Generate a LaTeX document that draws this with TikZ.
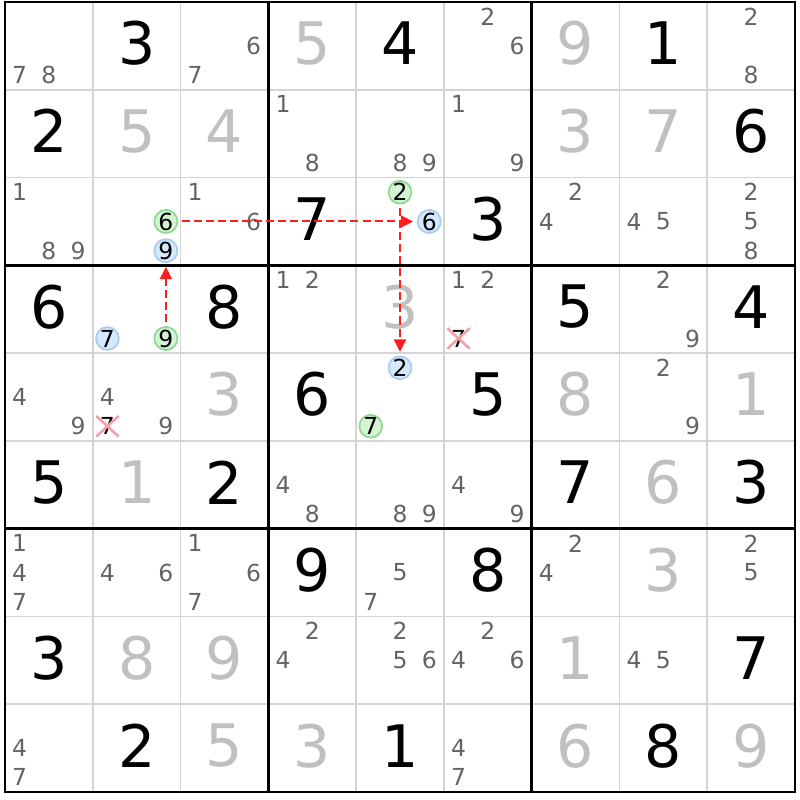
\documentclass[tikz,border=0pt]{standalone}
\usepackage{fontspec}
\setmainfont{DejaVu Sans}
\usetikzlibrary{arrows.meta,shapes.misc}
\definecolor{thingrid}{HTML}{D4D4D4}
\definecolor{solvedgray}{HTML}{C0C0C0}
\definecolor{candgray}{HTML}{646464}
\definecolor{onfill}{HTML}{D4F2D4}
\definecolor{ondraw}{HTML}{8ED88E}
\definecolor{offfill}{HTML}{D6E8FC}
\definecolor{offdraw}{HTML}{A6CCF4}
\definecolor{linkred}{HTML}{FF1E1E}
\definecolor{crossred}{HTML}{F4A0A8}
\tikzset{
  given/.style={font=\fontsize{19}{19}\selectfont, yshift=0.8pt},
  solved/.style={given, text=solvedgray},
  cand/.style={font=\fontsize{7.6}{7.6}\selectfont, text=candgray, inner sep=0pt},
  oncand/.style={cand, text=black, circle, fill=onfill, draw=ondraw, line width=0.55pt, minimum size=0.26cm},
  offcand/.style={oncand, fill=offfill, draw=offdraw},
  killed/.style={cand, text=black, cross out, draw=crossred, line width=0.85pt, minimum width=6.4pt, minimum height=5.8pt},
  link/.style={linkred, line width=0.65pt, dash pattern=on 2.6pt off 1.3pt, -{Triangle[length=4pt,width=3.9pt]}, shorten <=1.2pt, shorten >=1.2pt}
}
\begin{document}
\begin{tikzpicture}
    \useasboundingbox (-0.057,0.023) rectangle (9.057,-9.091);
    % grid
    \foreach \i in {1,2,4,5,7,8} {
        \draw[thingrid, line width=0.55pt] (\i,0) -- (\i,-9);
        \draw[thingrid, line width=0.55pt] (0,-\i) -- (9,-\i);
    }
    \foreach \i in {3,6} {
        \draw[line width=0.9pt] (\i,0) -- (\i,-9);
        \draw[line width=0.9pt] (0,-\i) -- (9,-\i);
    }
    \draw[line width=0.9pt] (0,0) rectangle (9,-9);
    % givens
    \foreach \rw/\cl/\dg in {1/2/3, 1/5/4, 1/8/1, 2/1/2, 2/9/6, 3/4/7, 3/6/3,
        4/1/6, 4/3/8, 4/7/5, 4/9/4, 5/4/6, 5/6/5, 6/1/5, 6/3/2, 6/7/7, 6/9/3,
        7/4/9, 7/6/8, 8/1/3, 8/9/7, 9/2/2, 9/5/1, 9/8/8}
        \node[given] (v\rw\cl) at (\cl-0.5,-\rw+0.5) {\dg};
    % solved
    \foreach \rw/\cl/\dg in {1/4/5, 1/7/9, 2/2/5, 2/3/4, 2/7/3, 2/8/7, 4/5/3,
        5/3/3, 5/7/8, 5/9/1, 6/2/1, 6/8/6, 7/8/3, 8/2/8, 8/3/9, 8/7/1,
        9/3/5, 9/4/3, 9/7/6, 9/9/9}
        \node[solved] (v\rw\cl) at (\cl-0.5,-\rw+0.5) {\dg};
    % candidates
    \foreach \rw/\cl/\ds in {1/1/{7,8}, 1/3/{6,7}, 1/6/{2,6}, 1/9/{2,8},
        2/4/{1,8}, 2/5/{8,9}, 2/6/{1,9}, 3/1/{1,8,9}, 3/3/{1,6}, 3/7/{2,4},
        3/8/{4,5}, 3/9/{2,5,8}, 4/4/{1,2}, 4/6/{1,2}, 4/8/{2,9}, 5/1/{4,9},
        5/2/{4,9}, 5/8/{2,9}, 6/4/{4,8}, 6/5/{8,9}, 6/6/{4,9}, 7/1/{1,4,7},
        7/2/{4,6}, 7/3/{1,6,7}, 7/5/{5,7}, 7/7/{2,4}, 7/9/{2,5}, 8/4/{2,4},
        8/5/{2,5,6}, 8/6/{2,4,6}, 8/8/{4,5}, 9/1/{4,7}, 9/6/{4,7}} {
        \foreach \dg in \ds {
            \pgfmathsetmacro\px{\cl-1+(2*mod(\dg-1,3)+1)/6}
            \pgfmathsetmacro\py{-\rw+1-(2*int((\dg-1)/3)+1)/6}
            \node[cand] (p\rw\cl\dg) at (\px,\py) {\dg};
        }
    }
    % chain
    \node[oncand] (on6) at (1.833,-2.5) {6};
    \node[offcand] (off9) at (1.833,-2.833) {9};
    \node[oncand] (on2) at (4.5,-2.167) {2};
    \node[offcand] (off6) at (4.833,-2.5) {6};
    \node[offcand] (off7) at (1.167,-3.833) {7};
    \node[oncand] (on9) at (1.833,-3.833) {9};
    \node[offcand] (off2) at (4.5,-4.167) {2};
    \node[oncand] (on7) at (4.167,-4.833) {7};
    \node[killed] (kill46) at (5.167,-3.833) {7};
    \node[killed] (kill52) at (1.167,-4.833) {7};
    \draw[link] (on9) -- (off9);
    \draw[link] (on6) -- (off6);
    \draw[link] (on2) -- (off2);
\end{tikzpicture}
\end{document}
